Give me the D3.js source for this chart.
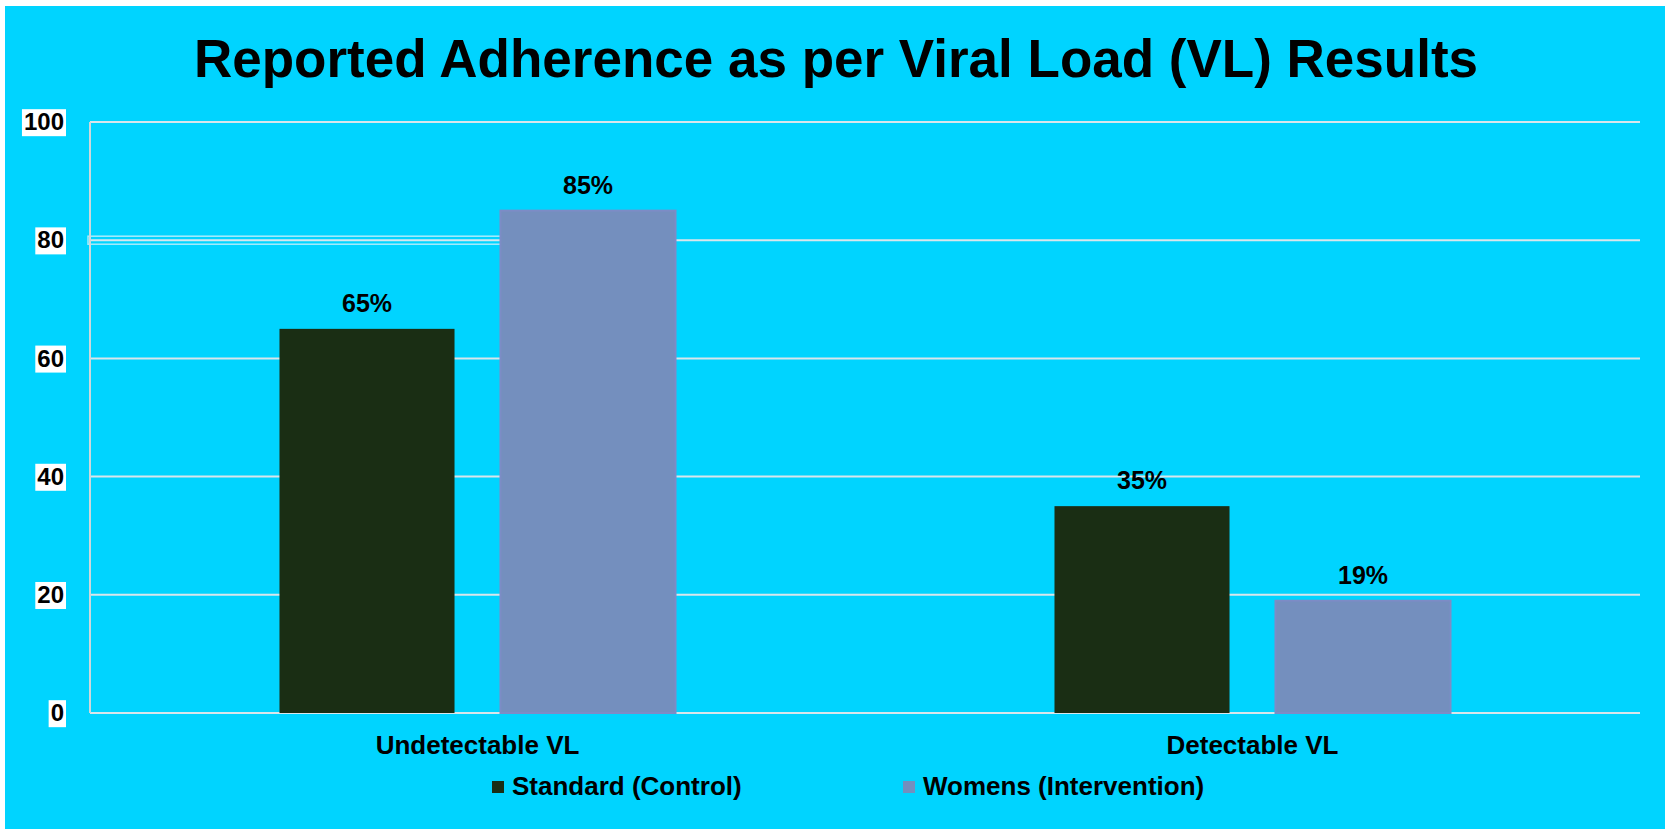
<!DOCTYPE html>
<html>
<head>
<meta charset="utf-8">
<style>
body{margin:0;background:#fff;}
text{font-family:"Liberation Sans",Arial,sans-serif;font-weight:bold;fill:#000;}
</style>
</head>
<body>
<script src="https://cdn.jsdelivr.net/npm/d3@7"></script>
<script>
var categories=["Undetectable VL","Detectable VL"];
var seriesNames=["Standard (Control)","Womens (Intervention)"];
var standardValues=[65,35];
var womensValues=[85,19];
var yTicks=[0,20,40,60,80,100];
var colors=["#1a2e14","#748fbe"];

var width=1665,height=834;
var plotLeft=90,plotRight=1640,plotTop=122,plotBottom=713;

var svg=d3.select("body").append("svg")
	.attr("width",width)
	.attr("height",height);

// cyan background
svg.append("rect")
	.attr("x",5).attr("y",6)
	.attr("width",width-5).attr("height",823)
	.attr("fill","#00d4ff");

var x0=d3.scaleBand().domain(categories).range([plotLeft,plotRight])
	.paddingInner(0.489).paddingOuter(0.2445);
var x1=d3.scaleBand().domain(seriesNames).range([0,x0.bandwidth()])
	.paddingInner(0.208);
var y=d3.scaleLinear().domain([0,100]).range([plotBottom,plotTop]);

// gridlines
svg.append("g").selectAll("line")
	.data(yTicks)
	.enter()
	.append("line")
	.attr("x1",plotLeft).attr("x2",plotRight)
	.attr("y1",function(d){return y(d);})
	.attr("y2",function(d){return y(d);})
	.attr("stroke","#d9e6ec")
	.attr("stroke-width",2);

// odd box around part of the 80 line
svg.append("rect")
	.attr("x",plotLeft-2).attr("y",y(80)-4)
	.attr("width",x0(categories[0])+x1(seriesNames[1])-plotLeft+4).attr("height",8)
	.attr("fill","none")
	.attr("stroke","#a8ecfc")
	.attr("stroke-width",1.5);

// vertical axis line
svg.append("line")
	.attr("x1",plotLeft).attr("x2",plotLeft)
	.attr("y1",y(100)).attr("y2",y(0))
	.attr("stroke","#cfd8dc")
	.attr("stroke-width",2);

// y axis labels
var yAxis=d3.axisLeft(y).tickValues(yTicks).tickSize(0).tickPadding(0);
var ga=svg.append("g").attr("transform","translate(64,0)").call(yAxis);
ga.select(".domain").remove();
ga.selectAll("text")
	.attr("font-size","24px")
	.attr("font-family","Liberation Sans, Arial, sans-serif")
	.attr("font-weight","bold")
	.attr("fill","#000");
ga.selectAll(".tick").each(function(){
	var t=d3.select(this).select("text");
	var b=t.node().getBBox();
	d3.select(this).insert("rect","text")
		.attr("x",b.x-2).attr("y",b.y+1)
		.attr("width",b.width+4).attr("height",b.height)
		.attr("fill","#fff");
});

// bars
var rows=categories.map(function(c,i){
	return {cat:c,vals:[standardValues[i],womensValues[i]]};
});
var groups=svg.selectAll(".grp")
	.data(rows)
	.enter()
	.append("g")
	.attr("class","grp")
	.attr("transform",function(d){return "translate("+x0(d.cat)+",0)";});

groups.selectAll("rect")
	.data(function(d){return d.vals;})
	.enter()
	.append("rect")
	.attr("x",function(d,i){return x1(seriesNames[i]);})
	.attr("y",function(d){return y(d);})
	.attr("width",x1.bandwidth())
	.attr("height",function(d){return y(0)-y(d);})
	.attr("fill",function(d,i){return colors[i];})
	.attr("stroke",function(d,i){return i==1?"#7d8cc6":"none";})
	.attr("stroke-width",2);

groups.selectAll(".lbl")
	.data(function(d){return d.vals;})
	.enter()
	.append("text")
	.attr("class","lbl")
	.attr("x",function(d,i){return x1(seriesNames[i])+x1.bandwidth()/2;})
	.attr("y",function(d){return y(d)-17;})
	.attr("text-anchor","middle")
	.attr("font-size","25px")
	.text(function(d){return d+"%";});

// category labels
svg.selectAll(".cat")
	.data(categories)
	.enter()
	.append("text")
	.attr("class","cat")
	.attr("x",function(d){return x0(d)+x0.bandwidth()/2;})
	.attr("y",754)
	.attr("text-anchor","middle")
	.attr("font-size","26px")
	.text(function(d){return d;});

// legend
var legX=[492,903];
var leg=svg.selectAll(".leg")
	.data(seriesNames)
	.enter()
	.append("g")
	.attr("class","leg")
	.attr("transform",function(d,i){return "translate("+legX[i]+",781)";});
leg.append("rect")
	.attr("width",12).attr("height",12)
	.attr("fill",function(d,i){return colors[i];});
leg.append("text")
	.attr("x",20).attr("y",14)
	.attr("font-size","26px")
	.text(function(d){return d;});

// title
svg.append("text")
	.attr("x",836).attr("y",77)
	.attr("text-anchor","middle")
	.attr("font-size","53px")
	.text("Reported Adherence as per Viral Load (VL) Results");
</script>
</body>
</html>
